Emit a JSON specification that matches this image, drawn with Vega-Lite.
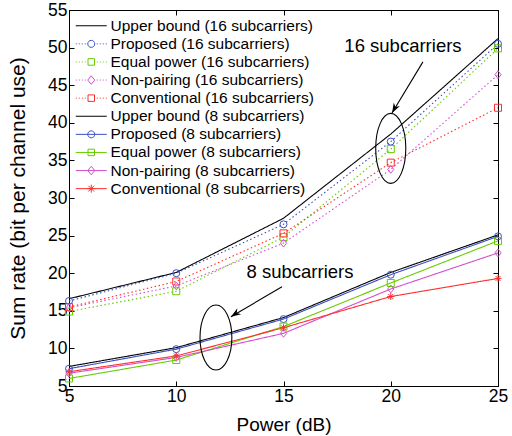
{
  "$schema": "https://vega.github.io/schema/vega-lite/v6.json",
  "width": 429,
  "height": 376,
  "autosize": "none",
  "padding": {"left": 69, "top": 10, "right": 14, "bottom": 50},
  "background": "white",
  "config": {
    "view": {"stroke": "black", "strokeWidth": 1},
    "font": "Liberation Sans",
    "axis": {"grid": false, "domainColor": "black", "tickColor": "black", "labelColor": "black", "titleColor": "black", "labelFont": "Liberation Sans", "titleFont": "Liberation Sans", "labelFontSize": 17.5, "titleFontSize": 19, "titleFontWeight": "normal", "labelFlush": false, "labelOverlap": false, "domainWidth": 1, "tickWidth": 1}
  },
  "datasets": {
    "rates": [
      {"power": 5, "rate": 16.6, "series": "Upper bound (16 subcarriers)"},
      {"power": 10, "rate": 20.1, "series": "Upper bound (16 subcarriers)"},
      {"power": 15, "rate": 27.3, "series": "Upper bound (16 subcarriers)"},
      {"power": 20, "rate": 38.5, "series": "Upper bound (16 subcarriers)"},
      {"power": 25, "rate": 51.2, "series": "Upper bound (16 subcarriers)"},
      {"power": 5, "rate": 16.3, "series": "Proposed (16 subcarriers)"},
      {"power": 10, "rate": 20.0, "series": "Proposed (16 subcarriers)"},
      {"power": 15, "rate": 26.5, "series": "Proposed (16 subcarriers)"},
      {"power": 20, "rate": 37.5, "series": "Proposed (16 subcarriers)"},
      {"power": 25, "rate": 50.5, "series": "Proposed (16 subcarriers)"},
      {"power": 5, "rate": 14.9, "series": "Equal power (16 subcarriers)"},
      {"power": 10, "rate": 17.6, "series": "Equal power (16 subcarriers)"},
      {"power": 15, "rate": 24.8, "series": "Equal power (16 subcarriers)"},
      {"power": 20, "rate": 36.5, "series": "Equal power (16 subcarriers)"},
      {"power": 25, "rate": 49.9, "series": "Equal power (16 subcarriers)"},
      {"power": 5, "rate": 15.4, "series": "Non-pairing (16 subcarriers)"},
      {"power": 10, "rate": 18.3, "series": "Non-pairing (16 subcarriers)"},
      {"power": 15, "rate": 24.0, "series": "Non-pairing (16 subcarriers)"},
      {"power": 20, "rate": 33.8, "series": "Non-pairing (16 subcarriers)"},
      {"power": 25, "rate": 46.4, "series": "Non-pairing (16 subcarriers)"},
      {"power": 5, "rate": 15.5, "series": "Conventional (16 subcarriers)"},
      {"power": 10, "rate": 18.9, "series": "Conventional (16 subcarriers)"},
      {"power": 15, "rate": 25.3, "series": "Conventional (16 subcarriers)"},
      {"power": 20, "rate": 34.7, "series": "Conventional (16 subcarriers)"},
      {"power": 25, "rate": 42.0, "series": "Conventional (16 subcarriers)"},
      {"power": 5, "rate": 7.6, "series": "Upper bound (8 subcarriers)"},
      {"power": 10, "rate": 10.1, "series": "Upper bound (8 subcarriers)"},
      {"power": 15, "rate": 14.1, "series": "Upper bound (8 subcarriers)"},
      {"power": 20, "rate": 20.1, "series": "Upper bound (8 subcarriers)"},
      {"power": 25, "rate": 25.1, "series": "Upper bound (8 subcarriers)"},
      {"power": 5, "rate": 7.3, "series": "Proposed (8 subcarriers)"},
      {"power": 10, "rate": 9.9, "series": "Proposed (8 subcarriers)"},
      {"power": 15, "rate": 13.9, "series": "Proposed (8 subcarriers)"},
      {"power": 20, "rate": 19.8, "series": "Proposed (8 subcarriers)"},
      {"power": 25, "rate": 24.9, "series": "Proposed (8 subcarriers)"},
      {"power": 5, "rate": 6.0, "series": "Equal power (8 subcarriers)"},
      {"power": 10, "rate": 8.45, "series": "Equal power (8 subcarriers)"},
      {"power": 15, "rate": 12.9, "series": "Equal power (8 subcarriers)"},
      {"power": 20, "rate": 18.7, "series": "Equal power (8 subcarriers)"},
      {"power": 25, "rate": 24.3, "series": "Equal power (8 subcarriers)"},
      {"power": 5, "rate": 6.7, "series": "Non-pairing (8 subcarriers)"},
      {"power": 10, "rate": 8.8, "series": "Non-pairing (8 subcarriers)"},
      {"power": 15, "rate": 12.0, "series": "Non-pairing (8 subcarriers)"},
      {"power": 20, "rate": 17.9, "series": "Non-pairing (8 subcarriers)"},
      {"power": 25, "rate": 22.7, "series": "Non-pairing (8 subcarriers)"},
      {"power": 5, "rate": 6.9, "series": "Conventional (8 subcarriers)"},
      {"power": 10, "rate": 9.0, "series": "Conventional (8 subcarriers)"},
      {"power": 15, "rate": 12.75, "series": "Conventional (8 subcarriers)"},
      {"power": 20, "rate": 16.9, "series": "Conventional (8 subcarriers)"},
      {"power": 25, "rate": 19.3, "series": "Conventional (8 subcarriers)"}
    ],
    "ellipses": [
      {"id": "e16", "x": 20, "y": 36.6},
      {"id": "e8", "x": 11.85, "y": 11.45}
    ],
    "arrows": [
      {"id": "a16", "x": 21.5, "y": 48.1, "x2": 20.06, "y2": 41.3},
      {"id": "a8", "x": 14.93, "y": 18.2, "x2": 12.55, "y2": 14.2}
    ],
    "notes": [
      {"x": 20.57, "y": 50.2, "label": "16 subcarriers"},
      {"x": 15.77, "y": 20.16, "label": "8 subcarriers"}
    ]
  },
  "resolve": {"axis": {"x": "independent", "y": "independent"}},
  "layer": [
    {
      "data": {"name": "rates"},
      "mark": {"type": "line", "strokeWidth": 1.1},
      "encoding": {
        "x": {"field": "power", "type": "quantitative", "scale": {"domain": [5, 25], "nice": false, "zero": false},
              "axis": {"orient": "bottom", "values": [5, 10, 15, 20, 25], "tickSize": -5, "labelPadding": 6, "title": "Power (dB)", "titlePadding": 11}},
        "y": {"field": "rate", "type": "quantitative", "scale": {"domain": [5, 55], "nice": false, "zero": false},
              "axis": {"orient": "left", "values": [5, 10, 15, 20, 25, 30, 35, 40, 45, 50, 55], "tickSize": -5, "labelPadding": 7, "title": "Sum rate (bit per channel use)", "titleFontSize": 21, "titlePadding": 19}},
        "color": {"field": "series", "type": "nominal",
          "scale": {"range": ["#ff2d2d", "#ff2d2d", "#66cc00", "#66cc00", "#d24fcf", "#d24fcf", "#3b4fc4", "#3b4fc4", "#000000", "#000000"]},
          "legend": null},
        "strokeDash": {"field": "series", "type": "nominal",
          "scale": {"range": [[1.5, 2.5], [1, 0], [1.5, 2.5], [1, 0], [1.5, 2.5], [1, 0], [1.5, 2.5], [1, 0], [1, 0], [1, 0]]},
          "legend": null}
      }
    },
    {
      "data": {"name": "rates"},
      "transform": [{"filter": "indexof(datum.series, 'Proposed') >= 0"}],
      "mark": {"type": "point", "filled": false, "opacity": 1, "strokeWidth": 1, "size": 49, "shape": "circle"},
      "encoding": {
        "x": {"field": "power", "type": "quantitative", "axis": {"orient": "top", "values": [5, 10, 15, 20, 25], "tickSize": -5, "labels": false, "title": null}},
        "y": {"field": "rate", "type": "quantitative", "axis": {"orient": "right", "values": [5, 10, 15, 20, 25, 30, 35, 40, 45, 50, 55], "tickSize": -5, "labels": false, "title": null}},
        "color": {"field": "series", "type": "nominal", "legend": null}
      }
    },
    {
      "data": {"name": "rates"},
      "transform": [{"filter": "indexof(datum.series, 'Equal') >= 0 || datum.series === 'Conventional (16 subcarriers)'"}],
      "mark": {"type": "point", "filled": false, "opacity": 1, "strokeWidth": 1, "size": 49, "shape": "square"},
      "encoding": {
        "x": {"field": "power", "type": "quantitative", "axis": null},
        "y": {"field": "rate", "type": "quantitative", "axis": null},
        "color": {"field": "series", "type": "nominal", "legend": null}
      }
    },
    {
      "data": {"name": "rates"},
      "transform": [{"filter": "indexof(datum.series, 'Non-pairing') >= 0"}],
      "mark": {"type": "point", "filled": false, "opacity": 1, "strokeWidth": 1, "size": 60, "shape": "M0,-1L0.8,0L0,1L-0.8,0Z"},
      "encoding": {
        "x": {"field": "power", "type": "quantitative", "axis": null},
        "y": {"field": "rate", "type": "quantitative", "axis": null},
        "color": {"field": "series", "type": "nominal", "legend": null}
      }
    },
    {
      "data": {"name": "rates"},
      "transform": [{"filter": "datum.series === 'Conventional (8 subcarriers)'"}],
      "mark": {"type": "point", "filled": false, "opacity": 1, "strokeWidth": 1, "size": 49, "shape": "M0,-1L0,1M-1,0L1,0M-0.7,-0.7L0.7,0.7M-0.7,0.7L0.7,-0.7"},
      "encoding": {
        "x": {"field": "power", "type": "quantitative", "axis": null},
        "y": {"field": "rate", "type": "quantitative", "axis": null},
        "color": {"field": "series", "type": "nominal", "legend": null}
      }
    },
    {
      "data": {"name": "rates"},
      "transform": [{"filter": "datum.power > 1000"}],
      "mark": {"type": "point", "filled": false, "opacity": 1, "strokeWidth": 1},
      "encoding": {
        "x": {"field": "power", "type": "quantitative", "axis": null},
        "y": {"field": "rate", "type": "quantitative", "axis": null},
        "stroke": {"field": "series", "type": "nominal",
          "scale": {"domain": ["Upper bound (16 subcarriers)", "Proposed (16 subcarriers)", "Equal power (16 subcarriers)", "Non-pairing (16 subcarriers)", "Conventional (16 subcarriers)", "Upper bound (8 subcarriers)", "Proposed (8 subcarriers)", "Equal power (8 subcarriers)", "Non-pairing (8 subcarriers)", "Conventional (8 subcarriers)"],
                    "range": ["#000000", "#3b4fc4", "#66cc00", "#d24fcf", "#ff2d2d", "#000000", "#3b4fc4", "#66cc00", "#d24fcf", "#ff2d2d"]},
          "legend": {"title": null, "orient": "none", "legendX": 14.5, "legendY": 8, "padding": 0, "labelFont": "Liberation Sans", "labelFontSize": 15.5, "labelColor": "black", "labelOffset": 11.5, "rowPadding": 1.1, "symbolSize": 100, "symbolStrokeWidth": 1, "labelLimit": 400}},
        "shape": {"field": "series", "type": "nominal",
          "scale": {"domain": ["Upper bound (16 subcarriers)", "Proposed (16 subcarriers)", "Equal power (16 subcarriers)", "Non-pairing (16 subcarriers)", "Conventional (16 subcarriers)", "Upper bound (8 subcarriers)", "Proposed (8 subcarriers)", "Equal power (8 subcarriers)", "Non-pairing (8 subcarriers)", "Conventional (8 subcarriers)"],
                    "range": [
                      "M-3.1,0L3.1,0",
                      "M-3.1,0L-2.9,0M-2.5,0L-2.3,0M-1.9,0L-1.7,0M-1.3,0L-1.1,0M1.1,0L1.3,0M1.7,0L1.9,0M2.3,0L2.5,0M2.9,0L3.1,0M-0.7,0A0.7,0.7 0 1,0 0.7,0A0.7,0.7 0 1,0 -0.7,0Z",
                      "M-3.1,0L-2.9,0M-2.5,0L-2.3,0M-1.9,0L-1.7,0M-1.3,0L-1.1,0M1.1,0L1.3,0M1.7,0L1.9,0M2.3,0L2.5,0M2.9,0L3.1,0M-0.65,-0.65L0.65,-0.65L0.65,0.65L-0.65,0.65Z",
                      "M-3.1,0L-2.9,0M-2.5,0L-2.3,0M-1.9,0L-1.7,0M-1.3,0L-1.1,0M1.1,0L1.3,0M1.7,0L1.9,0M2.3,0L2.5,0M2.9,0L3.1,0M0,-0.85L0.7,0L0,0.85L-0.7,0Z",
                      "M-3.1,0L-2.9,0M-2.5,0L-2.3,0M-1.9,0L-1.7,0M-1.3,0L-1.1,0M1.1,0L1.3,0M1.7,0L1.9,0M2.3,0L2.5,0M2.9,0L3.1,0M-0.65,-0.65L0.65,-0.65L0.65,0.65L-0.65,0.65Z",
                      "M-3.1,0L3.1,0",
                      "M-3.1,0L3.1,0M-0.7,0A0.7,0.7 0 1,0 0.7,0A0.7,0.7 0 1,0 -0.7,0Z",
                      "M-3.1,0L3.1,0M-0.65,-0.65L0.65,-0.65L0.65,0.65L-0.65,0.65Z",
                      "M-3.1,0L3.1,0M0,-0.85L0.7,0L0,0.85L-0.7,0Z",
                      "M-3.1,0L3.1,0M0,-0.8L0,0.8M-0.8,0L0.8,0M-0.57,-0.57L0.57,0.57M-0.57,0.57L0.57,-0.57"
                    ]},
          "legend": {"title": null, "orient": "none", "legendX": 14.5, "legendY": 8, "padding": 0, "labelFont": "Liberation Sans", "labelFontSize": 15.5, "labelColor": "black", "labelOffset": 11.5, "rowPadding": 1.1, "symbolSize": 100, "symbolStrokeWidth": 1, "labelLimit": 400}}
      }
    },
    {
      "data": {"name": "ellipses"},
      "transform": [{"filter": "datum.id === 'e16'"}],
      "mark": {"type": "point", "filled": false, "opacity": 1, "stroke": "black", "strokeWidth": 1.1, "size": 4900, "shape": "M0,-1A0.43,1 0 1,1 0,1A0.43,1 0 1,1 0,-1Z"},
      "encoding": {
        "x": {"field": "x", "type": "quantitative", "axis": null},
        "y": {"field": "y", "type": "quantitative", "axis": null}
      }
    },
    {
      "data": {"name": "ellipses"},
      "transform": [{"filter": "datum.id === 'e8'"}],
      "mark": {"type": "point", "filled": false, "opacity": 1, "stroke": "black", "strokeWidth": 1.1, "size": 4225, "shape": "M0,-1A0.49,1 0 1,1 0,1A0.49,1 0 1,1 0,-1Z"},
      "encoding": {
        "x": {"field": "x", "type": "quantitative", "axis": null},
        "y": {"field": "y", "type": "quantitative", "axis": null}
      }
    },
    {
      "data": {"name": "arrows"},
      "mark": {"type": "rule", "color": "black", "strokeWidth": 1.1},
      "encoding": {
        "x": {"field": "x", "type": "quantitative", "axis": null},
        "y": {"field": "y", "type": "quantitative", "axis": null},
        "x2": {"field": "x2"},
        "y2": {"field": "y2"}
      }
    },
    {
      "data": {"name": "arrows"},
      "transform": [{"filter": "datum.id === 'a16'"}],
      "mark": {"type": "point", "filled": true, "opacity": 1, "color": "black", "size": 400, "angle": 208.8, "shape": "M0,0L-0.35,1L0,0.7L0.35,1Z"},
      "encoding": {
        "x": {"field": "x2", "type": "quantitative", "axis": null},
        "y": {"field": "y2", "type": "quantitative", "axis": null}
      }
    },
    {
      "data": {"name": "arrows"},
      "transform": [{"filter": "datum.id === 'a8'"}],
      "mark": {"type": "point", "filled": true, "opacity": 1, "color": "black", "size": 400, "angle": 236.3, "shape": "M0,0L-0.35,1L0,0.7L0.35,1Z"},
      "encoding": {
        "x": {"field": "x2", "type": "quantitative", "axis": null},
        "y": {"field": "y2", "type": "quantitative", "axis": null}
      }
    },
    {
      "data": {"name": "notes"},
      "mark": {"type": "text", "font": "Liberation Sans", "fontSize": 18.5, "color": "black", "align": "center", "baseline": "middle"},
      "encoding": {
        "x": {"field": "x", "type": "quantitative", "axis": null},
        "y": {"field": "y", "type": "quantitative", "axis": null},
        "text": {"field": "label"}
      }
    }
  ]
}
